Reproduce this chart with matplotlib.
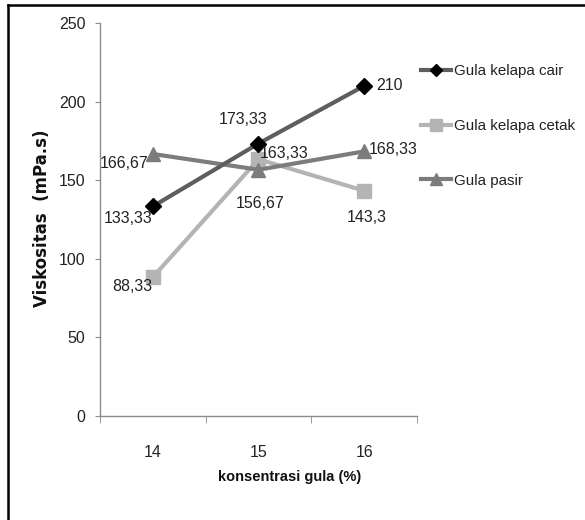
import matplotlib.pyplot as plt
from matplotlib.lines import Line2D
import numpy as np

# Data
konsentrasi = ['14', '15', '16']
gula_kelapa_cair = [133.33, 173.33, 210]
gula_kelapa_cetak = [88.33, 163.33, 143.3]
gula_pasir = [166.67, 156.67, 168.33]

cair_labels = ['133,33', '173,33', '210']
cetak_labels = ['88,33', '163,33', '143,3']
pasir_labels = ['166,67', '156,67', '168,33']

plt.rcParams['font.family'] = ['Liberation Sans', 'DejaVu Sans']

fig = plt.figure(figsize=(5.85, 5.2), dpi=100)
ax = fig.add_axes([100 / 585, 0.2, 317 / 585, 393 / 520])

x = np.arange(len(konsentrasi))

ax.plot(x, gula_kelapa_cair, color='#5e5e5e', lw=3, marker='D', ms=8,
        mfc='black', mec='black', label='Gula kelapa cair', zorder=3)
ax.plot(x, gula_kelapa_cetak, color='#b4b4b4', lw=3, marker='s', ms=10,
        mfc='#b4b4b4', mec='#b4b4b4', label='Gula kelapa cetak', zorder=2)
ax.plot(x, gula_pasir, color='#7c7c7c', lw=3, marker='^', ms=10.5,
        mfc='#7c7c7c', mec='#7c7c7c', label='Gula pasir', zorder=2.5)

# data labels (offsets in points)
def put_labels(vals, labels, offsets):
    for xi, v, t, (dx, dy, ha) in zip(x, vals, labels, offsets):
        ax.annotate(t, (xi, v), xytext=(dx, dy), textcoords='offset points',
                    ha=ha, va='center', fontsize=11.5, color='#222222')

put_labels(gula_kelapa_cair, cair_labels,
           [(0, -9, 'right'), (-11, 17, 'center'), (9, 0, 'left')])
put_labels(gula_kelapa_cetak, cetak_labels,
           [(0, -7, 'right'), (1, 4, 'left'), (2, -19, 'center')])
put_labels(gula_pasir, pasir_labels,
           [(-3, -7, 'right'), (1, -24, 'center'), (3, 1, 'left')])

ax.set_xlim(-0.5, 2.5)
ax.set_ylim(0, 250)
ax.set_yticks([0, 50, 100, 150, 200, 250])
ax.set_xticks(x)
ax.set_xticklabels(konsentrasi)
ax.set_xticks(np.arange(-0.5, 3, 1), minor=True)

for side in ['top', 'right']:
    ax.spines[side].set_visible(False)
for side in ['left', 'bottom']:
    ax.spines[side].set_color('#8c8c8c')
    ax.spines[side].set_linewidth(1)

ax.tick_params(axis='y', length=3.6, color='#8c8c8c', labelsize=11.5, pad=7,
               labelcolor='#222222')
ax.tick_params(axis='x', which='major', length=0, labelsize=11.5, pad=21,
               labelcolor='#222222')
ax.tick_params(axis='x', which='minor', length=5, color='#8c8c8c')

fig.text(290 / 585, 1 - 477 / 520, 'konsentrasi gula (%)', ha='center',
         va='center', fontsize=10.5, fontweight='bold', color='#111111')
fig.text(42 / 585, 1 - 218 / 520, 'Viskositas  (mPa.s)', ha='center',
         va='center', rotation=90, fontsize=12, fontweight='bold',
         family='DejaVu Sans', color='#111111')

leg = ax.legend(loc='upper left', bbox_to_anchor=(421 / 585, 1 - 64 / 520),
                bbox_transform=fig.transFigure, frameon=False, fontsize=10.9,
                handlelength=1.95, handletextpad=0.25, labelspacing=2.7,
                borderpad=0, borderaxespad=0, markerscale=0.8)
for t in leg.get_texts():
    t.set_color('#222222')

# outer frame (only top and left edges visible)
fig.add_artist(Line2D([7.5 / 585, 7.5 / 585], [0, 1 - 5 / 520],
                      transform=fig.transFigure, color='black', lw=1.8))
fig.add_artist(Line2D([7.5 / 585, 1], [1 - 5 / 520, 1 - 5 / 520],
                      transform=fig.transFigure, color='black', lw=1.8))

fig.savefig('out.png', dpi=100)
